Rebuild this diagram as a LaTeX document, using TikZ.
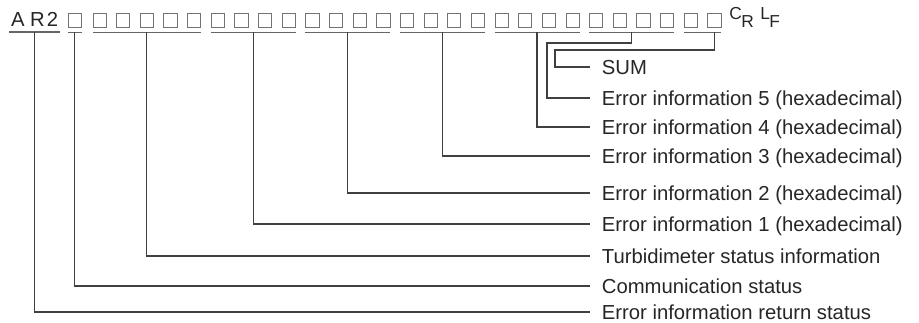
\documentclass[tikz,border=0pt]{standalone}
\usepackage{fontspec}
\setmainfont{Liberation Sans}
\usetikzlibrary{positioning}
\newcommand{\drawGroup}[3]{\draw [bar] ([yshift=-3.75pt]#1.south west) -- coordinate (#3) ([yshift=-3.75pt]#2.south east)}
\tikzset{
  cell/.style={draw=black!55, line width=0.6pt, minimum size=9.9pt, inner sep=0pt},
  bar/.style={draw=black!60, line width=0.9pt},
  lead/.style={draw=black!75, line width=0.9pt},
  chr/.style={anchor=base, inner sep=0pt, font=\fontsize{15.2}{18}\selectfont, text=black!85},
  sub/.style={anchor=base west, inner sep=0pt, font=\fontsize{13}{15}\selectfont, text=black!85},
  lbl/.style={anchor=west, inner xsep=8.7pt, inner ysep=0pt, text height=10.9pt, text depth=0pt,
    font=\fontsize{15.2}{18}\selectfont, text=black!85},
}
\begin{document}
\begin{tikzpicture}[x=0.75pt, y=-0.75pt]
    \useasboundingbox (0,0) rectangle (919,323);

    % the frame: AR2, data cells, CR LF
    \node [chr] (chA) at (18,27) {A};
    \node [chr] (chR) at (37.5,27) {R};
    \node [chr] (ch2) at (52.5,27) {2};
    \foreach \i in {0,...,27} {
        \pgfmathsetmacro\bx{\i==0 ? 68 : 93+23.65*(\i-1)}
        \node [cell] (c\i) at (\bx+6.5,20.5) {};
    }
    \node [sub] (crC) at (729,19.5) {C};
    \node [sub] (crR) at (741,28) {R};
    \node [sub] (lfL) at (760,19.5) {L};
    \node [sub] (lfF) at (769,28) {F};

    % underlines
    \draw [bar] (9,32) coordinate (g0) -- coordinate (u0) (60,32);
    \drawGroup{c0}{c0}{u1};
    \drawGroup{c1}{c5}{u2};
    \drawGroup{c6}{c9}{u3};
    \drawGroup{c10}{c13}{u4};
    \drawGroup{c14}{c17}{u5};
    \drawGroup{c18}{c21}{u6};
    \drawGroup{c22}{c25}{u7};
    \drawGroup{c26}{c27}{u8};

    % labels
    \node [lbl] (lsum) at (590,67) {SUM};
    \node [lbl] (lerr5) at (590,98) {Error information 5 (hexadecimal)};
    \node [lbl] (lerr4) at (590,127) {Error information 4 (hexadecimal)};
    \node [lbl] (lerr3) at (590,156) {Error information 3 (hexadecimal)};
    \node [lbl] (lerr2) at (590,193) {Error information 2 (hexadecimal)};
    \node [lbl] (lerr1) at (590,224) {Error information 1 (hexadecimal)};
    \node [lbl] (lturb) at (590,256) {Turbidimeter status information};
    \node [lbl] (lcomm) at (590,286) {Communication status};
    \node [lbl] (lret) at (590,312) {Error information return status};

    % leaders
    \coordinate (k8) at (555,50);
    \coordinate (k7) at (547,43);
    \draw [lead] (c27.south |- u8) |- (k8) |- (lsum.west);
    \draw [lead] (u7) |- (k7) |- (lerr5.west);
    \draw [lead] (u6) |- (lerr4.west);
    \draw [lead] (u5) |- (lerr3.west);
    \draw [lead] (u4) |- (lerr2.west);
    \draw [lead] (u3) |- (lerr1.west);
    \draw [lead] (u2) |- (lturb.west);
    \draw [lead] (u1) |- (lcomm.west);
    \draw [lead] (u0) |- (lret.west);
\end{tikzpicture}
\end{document}
